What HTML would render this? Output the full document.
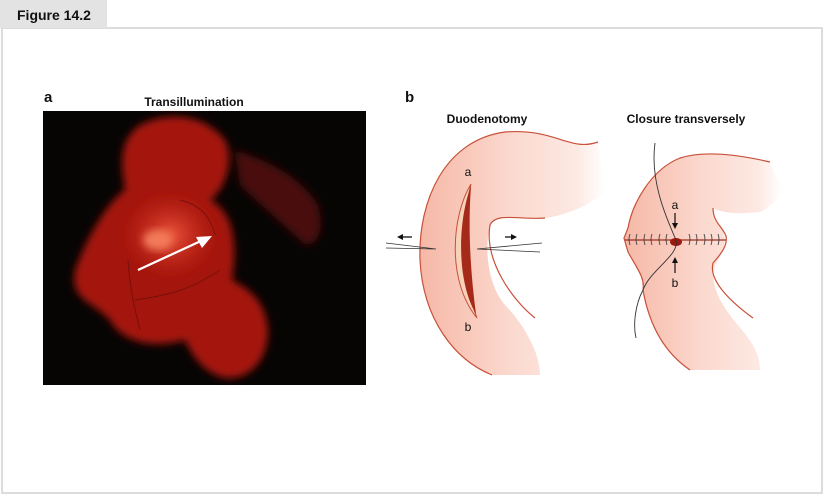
<!DOCTYPE html>
<html><head><meta charset="utf-8"><style>
html,body{margin:0;padding:0;background:#fff;}
body{width:825px;height:495px;position:relative;overflow:hidden;font-family:"Liberation Sans",sans-serif;}
</style></head><body>
<svg width="825" height="495" viewBox="0 0 825 495" xmlns="http://www.w3.org/2000/svg" style="position:absolute;left:0;top:0">
<defs>
<filter id="bl" x="-20%" y="-20%" width="140%" height="140%"><feGaussianBlur stdDeviation="4"/></filter>
<filter id="bl2"><feGaussianBlur stdDeviation="1.5"/></filter>
<radialGradient id="glow" cx="0.5" cy="0.5" r="0.5"><stop offset="0" stop-color="#f05a40"/><stop offset="1" stop-color="#c51f14" stop-opacity="0"/></radialGradient>
<linearGradient id="tubeL" x1="0" y1="0" x2="1" y2="0"><stop offset="0" stop-color="#f6b8a6"/><stop offset="0.5" stop-color="#fbd9cf"/><stop offset="0.85" stop-color="#fde9e3"/><stop offset="1" stop-color="#ffffff"/></linearGradient>
</defs>
<rect x="2" y="28" width="820" height="465" fill="#fff" stroke="#dcdcdc" stroke-width="2"/>
<rect x="0" y="0" width="107" height="28" fill="#e3e3e3"/>
<text x="17" y="20" font-size="14" font-weight="bold" fill="#111">Figure 14.2</text>

<text x="44" y="102" font-size="15" font-weight="bold" fill="#111">a</text>
<text x="194" y="106" font-size="12" font-weight="bold" fill="#111" text-anchor="middle">Transillumination</text>
<rect x="43" y="111" width="323" height="274" fill="#070404"/>
<g filter="url(#bl)">
<path d="M140,125 C170,110 205,115 225,140 C235,160 225,190 210,200 C240,215 235,260 232,280 C250,290 265,300 268,330 C268,360 250,380 225,378 C200,372 190,350 185,340 C150,350 120,340 110,320 C90,300 70,300 75,270 C90,230 110,200 125,190 C120,160 120,140 140,125 Z" fill="#a4160f"/>
<path d="M235,150 C265,160 300,175 318,205 C325,230 318,245 305,245 C290,230 260,205 240,185 Z" fill="#4a0a07"/>
</g>
<ellipse cx="170" cy="235" rx="50" ry="45" fill="url(#glow)" filter="url(#bl)"/>
<ellipse cx="158" cy="240" rx="15" ry="10" fill="#f27a5a" filter="url(#bl)"/>
<g stroke="#5a0c08" stroke-width="1" fill="none" opacity="0.6">
<path d="M135,300 C170,295 190,290 220,270"/><path d="M128,260 C130,290 135,310 140,330"/><path d="M180,200 C200,205 210,215 215,235"/>
</g>
<line x1="138" y1="270" x2="203" y2="240" stroke="#fff" stroke-width="2.2"/>
<polygon points="212,236 196,237 202,248" fill="#fff"/>

<text x="405" y="102" font-size="15" font-weight="bold" fill="#111">b</text>
<text x="487" y="123" font-size="12" font-weight="bold" fill="#111" text-anchor="middle">Duodenotomy</text>
<text x="686" y="123" font-size="12" font-weight="bold" fill="#111" text-anchor="middle">Closure transversely</text>

<!-- left tube -->
<path d="M598,142 C570,152 555,128 505,132 C445,140 418,200 420,260 C423,320 455,360 492,375 L540,375 C540,350 520,320 505,305 C488,285 484,250 490,225 C496,212 520,220 545,218 C575,214 595,200 605,192 Z" fill="url(#tubeL)"/>
<path d="M598,142 C570,152 555,128 505,132 C445,140 418,200 420,260 C423,320 455,360 492,375" fill="none" stroke="#c8503a" stroke-width="1.2"/>
<path d="M535,318 C512,300 484,260 490,225 C496,212 520,220 545,218" fill="none" stroke="#c8503a" stroke-width="1.2"/>
<path d="M471,184 C452,215 446,280 477,318 C462,280 462,220 471,184 Z" fill="#f7d2b8" stroke="#c8503a" stroke-width="1"/>
<path d="M471,186 C458,220 456,280 476,314 C470,270 468,225 471,186 Z" fill="#a52a1a"/>
<text x="468" y="176" font-size="12" fill="#111" text-anchor="middle">a</text>
<text x="468" y="331" font-size="12" fill="#111" text-anchor="middle">b</text>
<g stroke="#333" stroke-width="0.8" fill="none">
<path d="M386,243 L436,249 L386,248"/><path d="M542,243 L477,249 L540,252"/>
</g>
<path d="M412,237 L400,237" stroke="#111" stroke-width="1.3"/><polygon points="397,237 403,234 403,240" fill="#111"/>
<path d="M505,237 L514,237" stroke="#111" stroke-width="1.3"/><polygon points="517,237 511,234 511,240" fill="#111"/>

<!-- right tube -->
<path d="M770,162 C740,155 705,150 680,158 C650,170 632,205 628,228 L624,238 L628,252 C638,270 645,278 643,290 C650,330 668,355 690,370 L760,370 C760,345 740,330 730,315 C715,295 708,275 718,260 C725,248 728,238 720,226 C715,222 712,216 713,208 C720,212 735,215 760,212 C775,205 780,195 782,190 Z" fill="url(#tubeL)"/>
<path d="M770,162 C740,155 705,150 680,158 C650,170 632,205 628,228 L624,238 L628,252 C638,270 645,278 643,290 C650,330 668,355 690,370" fill="none" stroke="#c8503a" stroke-width="1.2"/>
<path d="M753,318 C735,305 708,282 713,263 C720,255 728,246 726,236 C722,226 713,222 713,208" fill="none" stroke="#c8503a" stroke-width="1.2"/>
<path d="M625,240 L726,240" stroke="#a03020" stroke-width="1.2"/>
<g stroke="#444" stroke-width="0.9" fill="none">
<path d="M630,234 q-2,5 0,11"/><path d="M637,234 q-2,5 0,11"/><path d="M645,234 q-2,5 0,11"/><path d="M652,234 q-2,5 0,11"/><path d="M660,234 q-2,5 0,11"/><path d="M667,234 q-2,5 0,11"/>
<path d="M689,234 q2,5 0,11"/><path d="M696,234 q2,5 0,11"/><path d="M704,234 q2,5 0,11"/><path d="M711,234 q2,5 0,11"/><path d="M718,234 q2,5 0,11"/>
</g>
<ellipse cx="676" cy="242" rx="6" ry="4" fill="#9a1a10"/>
<path d="M655,143 C650,180 665,215 676,240 C680,255 650,270 643,290 C635,305 633,325 636,338" fill="none" stroke="#333" stroke-width="0.9"/>
<text x="675" y="209" font-size="12" fill="#111" text-anchor="middle">a</text>
<path d="M675,213 L675,225" stroke="#111" stroke-width="1.2"/><polygon points="675,229 672,223 678,223" fill="#111"/>
<path d="M675,273 L675,261" stroke="#111" stroke-width="1.2"/><polygon points="675,257 672,263 678,263" fill="#111"/>
<text x="675" y="287" font-size="12" fill="#111" text-anchor="middle">b</text>
</svg>
</body></html>
